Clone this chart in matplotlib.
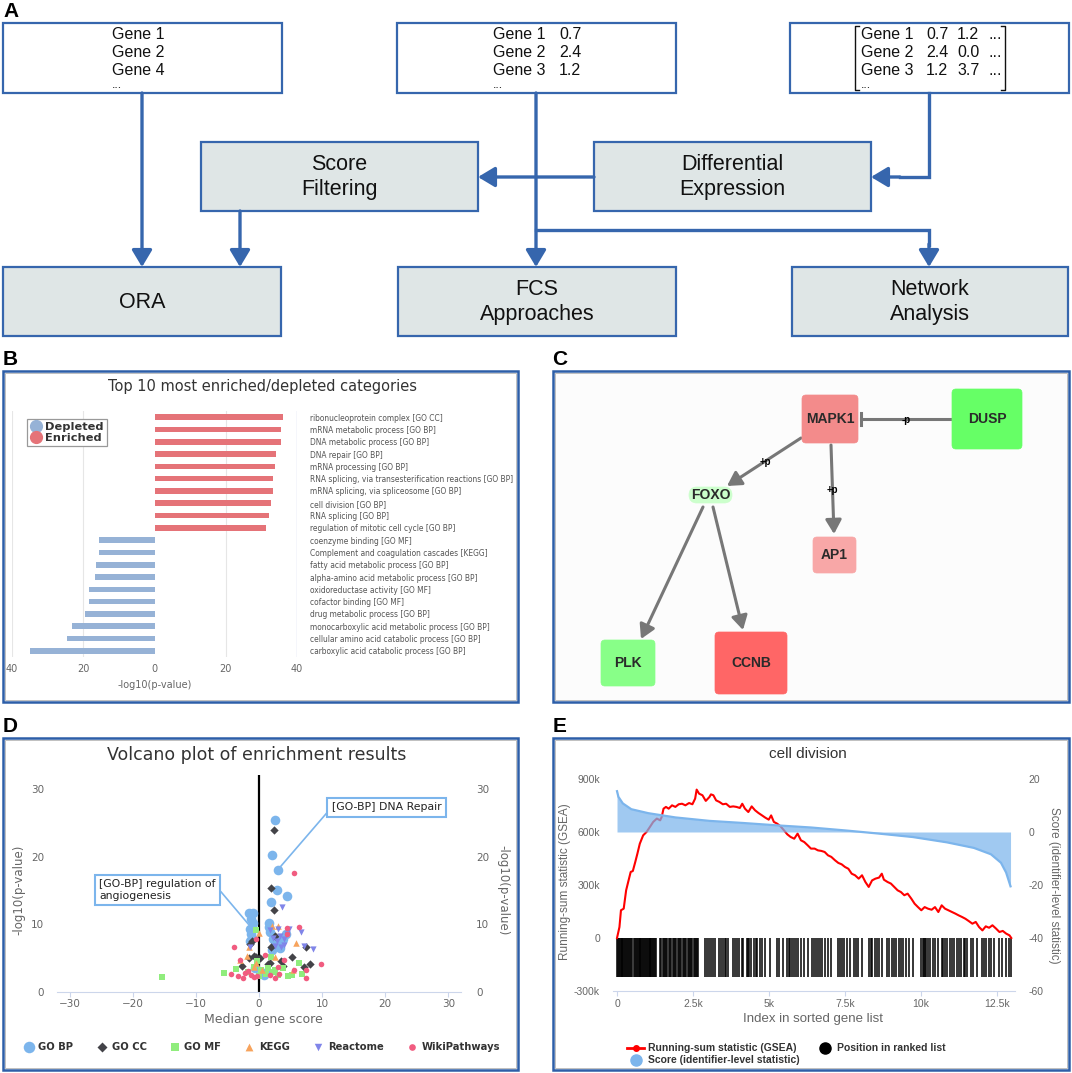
import matplotlib
matplotlib.use("Agg")
import matplotlib.pyplot as plt
from matplotlib.patches import Rectangle, FancyBboxPatch, FancyArrowPatch
from matplotlib.lines import Line2D
from matplotlib.ticker import FuncFormatter

W, H = 1072, 1073

# ---- panel B: top 10 enriched / depleted categories, -log10(p-value)
enriched_terms = ["ribonucleoprotein complex [GO CC]", "mRNA metabolic process [GO BP]",
                  "DNA metabolic process [GO BP]", "DNA repair [GO BP]", "mRNA processing [GO BP]",
                  "RNA splicing, via transesterification reactions [GO BP]",
                  "mRNA splicing, via spliceosome [GO BP]", "cell division [GO BP]",
                  "RNA splicing [GO BP]", "regulation of mitotic cell cycle [GO BP]"]
enriched_pval = [36.2, 35.4, 35.4, 34.2, 33.8, 33.3, 33.3, 32.8, 32.0, 31.4]
depleted_terms = ["coenzyme binding [GO MF]", "Complement and coagulation cascades [KEGG]",
                  "fatty acid metabolic process [GO BP]", "alpha-amino acid metabolic process [GO BP]",
                  "oxidoreductase activity [GO MF]", "cofactor binding [GO MF]",
                  "drug metabolic process [GO BP]", "monocarboxylic acid metabolic process [GO BP]",
                  "cellular amino acid catabolic process [GO BP]", "carboxylic acid catabolic process [GO BP]"]
depleted_pval = [15.6, 15.7, 16.5, 16.8, 18.5, 18.5, 19.4, 23.1, 24.6, 35.0]

# ---- panel C: small signalling network
net_nodes = ["MAPK1", "DUSP", "FOXO", "AP1", "PLK", "CCNB"]
net_colors = ["#f38b8b", "#66ff66", "#ccffcc", "#f8a7a7", "#88ff88", "#ff6666"]
net_edges = [("MAPK1", "FOXO", "+p", "act"), ("MAPK1", "AP1", "+p", "act"),
             ("DUSP", "MAPK1", "-p", "inh"), ("FOXO", "PLK", "", "act"),
             ("FOXO", "CCNB", "", "act")]

# ---- panel D: volcano plot (median gene score, -log10 p)
go_bp_x = [2.6, 2.1, 3.0, 2.8, 4.5, 1.9, 1.6, 1.6, 1.8, -1.6, -0.9, -1.2, -1.0, -1.4,
           -1.3, -1.1, -1.5, 2.2, 3.0, 3.8, 2.5, 3.3, 4.2, 2.0, 1.3, -0.6, 0.8]
go_bp_y = [25.4, 20.3, 18.0, 15.0, 14.2, 13.3, 10.2, 9.6, 8.8, 11.7, 11.6, 10.8, 10.2, 9.3,
           8.6, 8.0, 7.6, 7.9, 7.6, 7.8, 7.0, 6.5, 8.5, 6.2, 3.0, 3.6, 2.5]
go_cc_x = [2.3, 1.9, 2.3, -1.4, -1.1, -0.8, -0.4, 1.4, 1.8, 3.8, 5.2, 7.5, 8.1, 7.1, 1.9,
           -2.7, -1.6, 0.2, 2.6, 3.5]
go_cc_y = [24.0, 15.4, 12.1, 7.1, 7.6, 5.3, 5.2, 4.1, 4.3, 3.8, 5.1, 6.7, 4.1, 3.7, 6.7,
           3.8, 5.0, 5.0, 8.2, 4.6]
go_mf_x = [-15.4, -0.5, -5.5, -3.6, -0.8, 0.3, 1.1, 2.5, 3.0, 4.6, 6.8, 6.4, 1.9, 5.2,
           0.0, -1.8, 1.5, 2.2, -0.3, 3.8]
go_mf_y = [2.2, 9.2, 2.8, 3.4, 3.7, 3.2, 2.7, 3.2, 2.5, 2.3, 2.7, 4.3, 5.2, 2.5,
           2.4, 3.0, 3.6, 2.9, 4.6, 3.5]
kegg_x = [0.0, -1.9, -1.6, -0.8, 2.1, 3.0, 5.8, 5.4, -3.0, -0.4, 0.4, 2.6]
kegg_y = [8.7, 5.3, 6.7, 3.7, 9.8, 9.8, 7.3, 3.2, 4.7, 4.3, 3.2, 5.2]
reactome_x = [3.7, 6.6, 7.1, 8.5, 2.2, 2.8, 3.3, 3.9, 4.5, 4.0, 3.5, 2.6, 4.8, -1.4, 1.8, 3.0]
reactome_y = [12.6, 8.9, 6.8, 6.3, 8.0, 7.6, 8.3, 7.8, 8.6, 7.0, 6.6, 6.8, 9.3, 6.7, 9.1, 9.3]
wiki_x = [5.6, 6.4, 4.4, -3.9, 9.9, 7.4, 7.4, -0.5, -4.5, -3.4, -2.2, -1.3, -0.8, -0.3,
          -1.8, 1.7, 2.5, 3.2, 3.9, -3.0, 4.4, 1.0, -2.6, 3.0, 5.5]
wiki_y = [17.6, 9.6, 9.4, 6.7, 4.1, 2.1, 3.3, 7.9, 2.6, 2.4, 2.8, 2.5, 2.2, 2.4,
          3.1, 2.5, 2.1, 2.6, 4.8, 4.7, 8.5, 5.4, 2.0, 3.7, 3.3]

# ---- panel E: GSEA running sum for "cell division" (values in thousands)
run_idx = [0, 80, 130, 220, 300, 380, 450, 520, 600, 670,
           750, 860, 970, 1080, 1190, 1310, 1420, 1470, 1530, 1610,
           1700, 1810, 1920, 2030, 2140, 2250, 2370, 2480, 2570, 2620,
           2700, 2810, 2920, 3040, 3090, 3170, 3260, 3370, 3480, 3590,
           3710, 3820, 3930, 4040, 4120, 4210, 4320, 4430, 4540, 4650,
           4770, 4880, 4990, 5070, 5160, 5270, 5380, 5490, 5600, 5710,
           5830, 5940, 6050, 6160, 6270, 6380, 6500, 6610, 6720, 6830,
           6940, 7050, 7170, 7280, 7390, 7500, 7610, 7720, 7830, 7950,
           8060, 8170, 8280, 8390, 8500, 8620, 8710, 8780, 8900, 9010,
           9120, 9230, 9340, 9450, 9560, 9680, 9790, 9900, 10010, 10120,
           10230, 10350, 10460, 10570, 10680, 10790, 10900, 11020, 11130, 11240,
           11350, 11460, 11570, 11690, 11800, 11910, 12020, 12130, 12240, 12350,
           12470, 12580, 12690, 12800, 12910, 12970]
run_val = [0, 62, 157, 166, 270, 326, 374, 379, 430, 477,
           534, 581, 600, 628, 657, 676, 666, 685, 732, 742,
           732, 751, 742, 757, 760, 751, 764, 757, 789, 840,
           817, 808, 776, 798, 813, 808, 779, 770, 757, 760,
           742, 745, 742, 736, 760, 732, 713, 745, 723, 708,
           694, 681, 670, 694, 657, 647, 632, 610, 587, 572,
           562, 591, 553, 543, 525, 506, 506, 496, 493, 487,
           468, 459, 440, 425, 417, 402, 392, 364, 355, 336,
           355, 317, 289, 326, 336, 342, 364, 330, 317, 308,
           289, 270, 260, 242, 251, 223, 194, 175, 157, 175,
           166, 160, 175, 147, 185, 166, 157, 147, 138, 128,
           119, 109, 96, 81, 91, 62, 43, 66, 58, 72,
           53, 34, 40, 25, 15, 0]
score_idx = [0, 45, 190, 470, 1030, 1920, 3035, 4150, 5270, 6380,
             7500, 8615, 9730, 10850, 11740, 12300, 12630, 12800, 12945]
score_val = [15.4, 13.3, 10.8, 8.6, 7.1, 5.5, 4.2, 3.4, 2.5, 1.7,
             0.6, -0.6, -1.9, -3.9, -6.0, -8.4, -11.6, -15.3, -20.5]
hit_pos = [0, 30, 60, 90, 120, 150, 180, 210, 240, 270, 300, 330, 360, 390, 420, 450, 480,
           560, 590, 620, 650, 680, 710, 740, 770, 800, 830, 860, 890, 920, 950, 980,
           1010, 1040, 1070, 1100, 1130, 1160, 1190, 1220, 1250, 1270,
           1420, 1460, 1500, 1540, 1580, 1620, 1660, 1700, 1740, 1790, 1830, 1870, 1910,
           1950, 1990, 2030, 2080, 2120, 2160, 2200, 2240, 2280, 2320, 2360, 2400, 2440,
           2480, 2520, 2560, 2600, 2640, 2680,
           2900, 2950, 3010, 3100, 3150, 3230, 3370, 3420, 3480, 3540, 3600, 3660,
           3820, 3880, 3950, 4020, 4100, 4150, 4260, 4300, 4350, 4420, 4500, 4560,
           4620, 4700, 4780, 4870, 5040, 5270, 5330, 5460,
           5600, 5650, 5700, 5760, 5830, 5900, 5960, 6050, 6150, 6270,
           6420, 6480, 6540, 6600, 6680, 6750, 6850, 6940, 7050,
           7280, 7330, 7400, 7480, 7550, 7670, 7780, 7850, 7920, 8060,
           8300, 8350, 8400, 8480, 8560, 8620, 8730, 8895, 8950, 9030, 9100, 9170,
           9285, 9350, 9420, 9500, 9600, 9730,
           10010, 10050, 10090, 10130, 10170, 10230, 10300, 10380, 10450, 10570,
           10680, 10720, 10800, 10870, 10950, 11020, 11100, 11180, 11250, 11320,
           11400, 11450, 11520, 11630, 11700, 11850,
           12020, 12080, 12150, 12230, 12300, 12410, 12580, 12650, 12800, 12900, 12960]

BLUE = "#3666ad"
FRAME = "#2d5ea8"
BOXFILL = "#dfe6e6"
ARIAL = "Liberation Sans"

fig = plt.figure(figsize=(W / 100, H / 100), dpi=100)


def rect(x0, y0, x1, y1):
    # pixel box (top-left origin) -> figure fraction
    return [x0 / W, 1 - y1 / H, (x1 - x0) / W, (y1 - y0) / H]


cv = fig.add_axes([0, 0, 1, 1])
cv.set_xlim(0, W)
cv.set_ylim(H, 0)
cv.axis("off")

# ================= panel A: workflow diagram =================
def box(x0, y0, x1, y1, fc="white"):
    cv.add_patch(Rectangle((x0, y0), x1 - x0, y1 - y0, fc=fc, ec=BLUE, lw=1.6))


def arrow(p0, p1):
    cv.annotate("", xy=p1, xytext=p0,
                arrowprops=dict(arrowstyle="-|>,head_length=0.6,head_width=0.36", color=BLUE,
                                lw=2.4, shrinkA=0, shrinkB=0, mutation_scale=17))


box(3, 23, 282, 93)
box(397, 23, 676, 93)
box(790, 23, 1069, 93)
box(201, 142, 478, 211, BOXFILL)
box(594, 142, 871, 211, BOXFILL)
box(3, 267, 281, 336, BOXFILL)
box(398, 267, 676, 336, BOXFILL)
box(792, 267, 1068, 336, BOXFILL)

tA = dict(fontsize=11.5, family=ARIAL, va="baseline", color="#111")
for i, g in enumerate(["Gene 1", "Gene 2", "Gene 4"]):
    cv.text(112, 39 + 18 * i, g, **tA)
cv.text(112, 88, "...", fontsize=9, family=ARIAL, va="baseline", color="#111")
for i, (g, v) in enumerate([("Gene 1", "0.7"), ("Gene 2", "2.4"), ("Gene 3", "1.2")]):
    cv.text(493, 39 + 18 * i, g, **tA)
    cv.text(559, 39 + 18 * i, v, **tA)
cv.text(493, 88, "...", fontsize=9, family=ARIAL, va="baseline", color="#111")
for i, (g, a, b) in enumerate([("Gene 1", "0.7", "1.2"), ("Gene 2", "2.4", "0.0"), ("Gene 3", "1.2", "3.7")]):
    cv.text(861, 39 + 18 * i, g, **tA)
    cv.text(926, 39 + 18 * i, a, **tA)
    cv.text(957, 39 + 18 * i, b, **tA)
    cv.text(988, 39 + 18 * i, "...", **tA)
cv.text(861, 88, "...", fontsize=9, family=ARIAL, va="baseline", color="#111")
cv.plot([859, 855, 855, 859], [26, 26, 90, 90], color="#111", lw=1)
cv.plot([1001, 1005, 1005, 1001], [26, 26, 90, 90], color="#111", lw=1)

tB = dict(fontsize=15.5, family=ARIAL, ha="center", va="center", linespacing=1.22, color="#111")
cv.text(339.5, 177, "Score\nFiltering", **tB)
cv.text(732.5, 177, "Differential\nExpression", **tB)
cv.text(142, 302, "ORA", **tB)
cv.text(537, 302, "FCS\nApproaches", **tB)
cv.text(930, 302, "Network\nAnalysis", **tB)

arrow((142, 93), (142, 267))
arrow((240, 211), (240, 267))
arrow((536, 93), (536, 267))
arrow((594, 177), (478, 177))
cv.plot([929, 929, 900], [93, 177, 177], color=BLUE, lw=2.4, solid_joinstyle="miter")
arrow((900, 177), (871, 177))
cv.plot([536, 929, 929], [230, 230, 245], color=BLUE, lw=2.4, solid_joinstyle="miter")
arrow((929, 244), (929, 267))

# ================= panel frames & letters =================
def frame(x0, y0, x1, y1, fc="none"):
    cv.add_patch(Rectangle((x0, y0), x1 - x0, y1 - y0, fc=fc, ec=FRAME, lw=1.8))
    cv.add_patch(Rectangle((x0 + 2, y0 + 2), x1 - x0 - 4, y1 - y0 - 4, fc="none", ec="#b5b5b5", lw=0.6))


frame(3, 371, 518, 702)
frame(553, 371, 1069, 702, "#fcfcfc")
frame(3, 738, 518, 1070)
frame(553, 738, 1069, 1070)
for lab, x, y in [("A", 3, 17), ("B", 3, 365), ("C", 552, 365), ("D", 3, 732), ("E", 553, 732)]:
    cv.text(x, y, lab, fontsize=15, fontweight="bold", family=ARIAL, va="baseline")

# ================= panel B: bar chart =================
RED_BAR = "#e57378"
BLUE_BAR = "#96b2d6"
fig.text(262 / W, 1 - 387 / H, "Top 10 most enriched/depleted categories", ha="center", va="center",
         fontsize=10.5, color="#333")
axB = fig.add_axes(rect(12, 411, 297, 657))
axB.set_facecolor("none")
axB.barh(range(10), enriched_pval, height=0.45, color=RED_BAR, zorder=3)
axB.barh(range(10, 20), [-v for v in depleted_pval], height=0.45, color=BLUE_BAR, zorder=3)
axB.set_xlim(-40, 40)
axB.set_ylim(19.5, -0.5)
for v in (-40, -20, 20):
    axB.axvline(v, color="#e6e6e6", lw=0.8, zorder=1)
axB.axvline(40, color="#ccd6eb", lw=1.0, zorder=1)
for s in axB.spines.values():
    s.set_visible(False)
axB.set_xticks([-40, -20, 0, 20, 40])
axB.xaxis.set_major_formatter(FuncFormatter(lambda v, p: f"{abs(v):.0f}"))
axB.tick_params(axis="x", length=0, pad=5, labelsize=7, labelcolor="#666")
axB.set_yticks(range(20))
axB.set_yticklabels(enriched_terms + depleted_terms)
axB.yaxis.tick_right()
axB.tick_params(axis="y", length=0, pad=9.4, labelsize=5.45, labelcolor="#555")
axB.set_xlabel("-log10(p-value)", fontsize=7, color="#666", labelpad=4)
hB = [Line2D([], [], ls="none", marker="o", ms=8.5, mfc=BLUE_BAR, mec=BLUE_BAR),
      Line2D([], [], ls="none", marker="o", ms=8.5, mfc=RED_BAR, mec=RED_BAR)]
legB = axB.legend(hB, ["Depleted", "Enriched"], loc="upper left",
                  bbox_to_anchor=(21 / W, 1 - 413 / H), bbox_transform=fig.transFigure,
                  fancybox=False, edgecolor="#999", framealpha=1, borderpad=0.3,
                  handletextpad=0.35, handlelength=1.0, labelspacing=0.05,
                  prop=dict(weight="bold", size=8.2))
legB.get_frame().set_linewidth(0.9)
for t in legB.get_texts():
    t.set_color("#333")

# ================= panel C: network =================
layout = {"MAPK1": (802, 395, 858, 443), "DUSP": (952, 389, 1022, 449),
          "FOXO": (689, 487, 732, 503), "AP1": (813, 537, 856, 573),
          "PLK": (601, 640, 655, 686), "CCNB": (715, 632, 787, 694)}
edge_pts = {("MAPK1", "FOXO"): ((801, 438), (727, 486)), ("MAPK1", "AP1"): ((831, 445), (834, 534)),
            ("DUSP", "MAPK1"): ((952, 419), (861, 419)), ("FOXO", "PLK"): ((703, 507), (641, 639)),
            ("FOXO", "CCNB"): ((713, 507), (743, 630))}
edge_lab = {("MAPK1", "FOXO"): (765, 462), ("MAPK1", "AP1"): (832, 490), ("DUSP", "MAPK1"): (906, 420)}
for src, dst, lab, kind in net_edges:
    p0, p1 = edge_pts[(src, dst)]
    if kind == "act":
        cv.add_patch(FancyArrowPatch(p0, p1, arrowstyle="-|>,head_length=0.7,head_width=0.4",
                                     mutation_scale=12, color="#777", lw=2.2, shrinkA=0, shrinkB=0,
                                     zorder=3))
    else:
        cv.plot([p0[0], p1[0]], [p0[1], p1[1]], color="#777", lw=2.2, zorder=3)
        cv.plot([p1[0], p1[0]], [p1[1] - 6, p1[1] + 6], color="#777", lw=2.2, zorder=3)
    if lab:
        cv.text(*edge_lab[(src, dst)], lab, fontsize=7, fontweight="bold", family=ARIAL,
                ha="center", va="center", zorder=5)
for name, col in zip(net_nodes, net_colors):
    x0, y0, x1, y1 = layout[name]
    rs = 8 if name == "FOXO" else 4
    cv.add_patch(FancyBboxPatch((x0, y0), x1 - x0, y1 - y0, boxstyle=f"round,pad=0,rounding_size={rs}",
                                fc=col, ec=col, lw=0.5, zorder=4))
    cv.text((x0 + x1) / 2, (y0 + y1) / 2, name, fontsize=10, fontweight="bold", family=ARIAL,
            ha="center", va="center", color="#2a2a2a", zorder=5)

# ================= panel D: volcano =================
fig.text(257 / W, 1 - 755 / H, "Volcano plot of enrichment results", ha="center", va="center",
         fontsize=12.5, color="#333")
axD = fig.add_axes(rect(57, 775.4, 461, 992))
axD.set_facecolor("none")
axD.set_xlim(-32, 32)
axD.set_ylim(0, 32)
axD.axvline(0, color="black", lw=1.6, zorder=2)
series = [("GO BP", go_bp_x, go_bp_y, "#7cb5ec", "o", 48),
          ("GO CC", go_cc_x, go_cc_y, "#434348", "D", 18),
          ("GO MF", go_mf_x, go_mf_y, "#90ed7d", "s", 18),
          ("KEGG", kegg_x, kegg_y, "#f7a35c", "^", 22),
          ("Reactome", reactome_x, reactome_y, "#8085e9", "v", 20),
          ("WikiPathways", wiki_x, wiki_y, "#f15c80", "o", 16)]
handles = []
for name, xs, ys, col, mk, s in series:
    handles.append(axD.scatter(xs, ys, s=s, c=col, marker=mk, lw=0, zorder=3, label=name))
for k in ("top", "right", "left"):
    axD.spines[k].set_visible(False)
axD.spines["bottom"].set_color("#ccd6eb")
axD.set_xticks([-30, -20, -10, 0, 10, 20, 30])
axD.set_yticks([0, 10, 20, 30])
axD.tick_params(axis="x", length=3.6, color="#ccd6eb", pad=1.5, labelsize=7.5, labelcolor="#666")
axD.tick_params(axis="y", length=0, pad=9.4, labelsize=7.5, labelcolor="#666")
axD2 = axD.twinx()
axD2.set_ylim(0, 32)
axD2.set_yticks([0, 10, 20, 30])
axD2.tick_params(axis="y", length=0, pad=11, labelsize=7.5, labelcolor="#666")
for s in axD2.spines.values():
    s.set_visible(False)
fig.text(19 / W, 1 - 890 / H, "-log10(p-value)", rotation=90, ha="center", va="center",
         fontsize=8.5, color="#666")
fig.text(503 / W, 1 - 890 / H, "-log10(p-value)", rotation=270, ha="center", va="center",
         fontsize=8.5, color="#666")
fig.text(263 / W, 1 - 1020 / H, "Median gene score", ha="center", va="center", fontsize=9, color="#666")
ann = dict(fontsize=7.8, color="#222", ha="center", va="center", zorder=6)
axD.annotate("[GO-BP] DNA Repair", xy=(3.2, 18.3), xytext=(20.2, 27.3), multialignment="left",
             bbox=dict(boxstyle="square,pad=0.4", fc="white", ec="#7cb5ec", lw=1.5),
             arrowprops=dict(arrowstyle="-", color="#7cb5ec", lw=1.2, relpos=(0, 0.5),
                             shrinkA=0, shrinkB=0), **ann)
axD.annotate("[GO-BP] regulation of\nangiogenesis", xy=(-1.3, 9.6), xytext=(-16.1, 15.1),
             multialignment="left",
             bbox=dict(boxstyle="square,pad=0.4", fc="white", ec="#7cb5ec", lw=1.5),
             arrowprops=dict(arrowstyle="-", color="#7cb5ec", lw=1.2, relpos=(1, 0.7),
                             shrinkA=0, shrinkB=0), **ann)
axD.legend(handles=handles, ncol=6, loc="center", bbox_to_anchor=(262 / W, 1 - 1047 / H),
           bbox_transform=fig.transFigure, frameon=False, handletextpad=0.5, columnspacing=2.3,
           handlelength=1.0, markerscale=1.2, prop=dict(weight="bold", size=7.2), labelcolor="#333")

# ================= panel E: GSEA =================
fig.text(808 / W, 1 - 754 / H, "cell division", ha="center", va="center", fontsize=11,
         family=ARIAL, color="#333")
axE = fig.add_axes(rect(613, 779, 1015, 991))
axE.set_facecolor("none")
axE.set_xlim(-132, 13092)
axE.set_ylim(-300, 900)
axE.vlines(hit_pos, -221, 0, color="black", lw=1.1, zorder=2)
axE.plot(run_idx, run_val, color="#ff0000", lw=1.5, zorder=3)
for k in ("top", "right", "left"):
    axE.spines[k].set_visible(False)
axE.spines["bottom"].set_color("#ccd6eb")
axE.set_xticks([0, 2500, 5000, 7500, 10000, 12500])
axE.set_xticklabels(["0", "2.5k", "5k", "7.5k", "10k", "12.5k"], family=ARIAL)
axE.set_yticks([-300, 0, 300, 600, 900])
axE.set_yticklabels(["-300k", "0", "300k", "600k", "900k"], family=ARIAL)
axE.tick_params(axis="x", length=3.6, color="#ccd6eb", pad=2, labelsize=7.5, labelcolor="#666")
axE.tick_params(axis="y", length=0, pad=9.4, labelsize=7.5, labelcolor="#666")
axE2 = axE.twinx()
axE2.set_ylim(-60, 20)
axE2.fill_between(score_idx, score_val, 0, color="#7cb5ec", alpha=0.72, lw=0, zorder=2)
axE2.plot(score_idx, score_val, color="#7cb5ec", lw=1.6, zorder=3)
axE2.set_yticks([-60, -40, -20, 0, 20])
axE2.set_yticklabels(["-60", "-40", "-20", "0", "20"], family=ARIAL)
axE2.tick_params(axis="y", length=0, pad=10, labelsize=7.5, labelcolor="#666")
for s in axE2.spines.values():
    s.set_visible(False)
fig.text(565 / W, 1 - 882 / H, "Running-sum statistic (GSEA)", rotation=90, ha="center", va="center",
         fontsize=8.5, color="#666", family=ARIAL)
fig.text(1054 / W, 1 - 885 / H, "Score (identifier-level statistic)", rotation=270, ha="center",
         va="center", fontsize=8.5, color="#666", family=ARIAL)
fig.text(813 / W, 1 - 1019 / H, "Index in sorted gene list", ha="center", va="center",
         fontsize=9.5, color="#666", family=ARIAL)
hE = [Line2D([], [], color="#ff0000", lw=2, marker="o", ms=4),
      Line2D([], [], ls="none", marker="o", ms=8, mfc="#7cb5ec", mec="#7cb5ec"),
      Line2D([], [], ls="none", marker="o", ms=8, mfc="black", mec="black")]
axE.legend(hE, ["Running-sum statistic (GSEA)", "Score (identifier-level statistic)",
                "Position in ranked list"], ncol=2, loc="upper left",
           bbox_to_anchor=(622 / W, 1 - 1038 / H), bbox_transform=fig.transFigure, frameon=False,
           handlelength=1.6, handletextpad=0.4, columnspacing=1.6, labelspacing=0.2,
           borderpad=0, prop=dict(family=ARIAL, weight="bold", size=7.5), labelcolor="#333")

fig.savefig("out.png", dpi=100)
